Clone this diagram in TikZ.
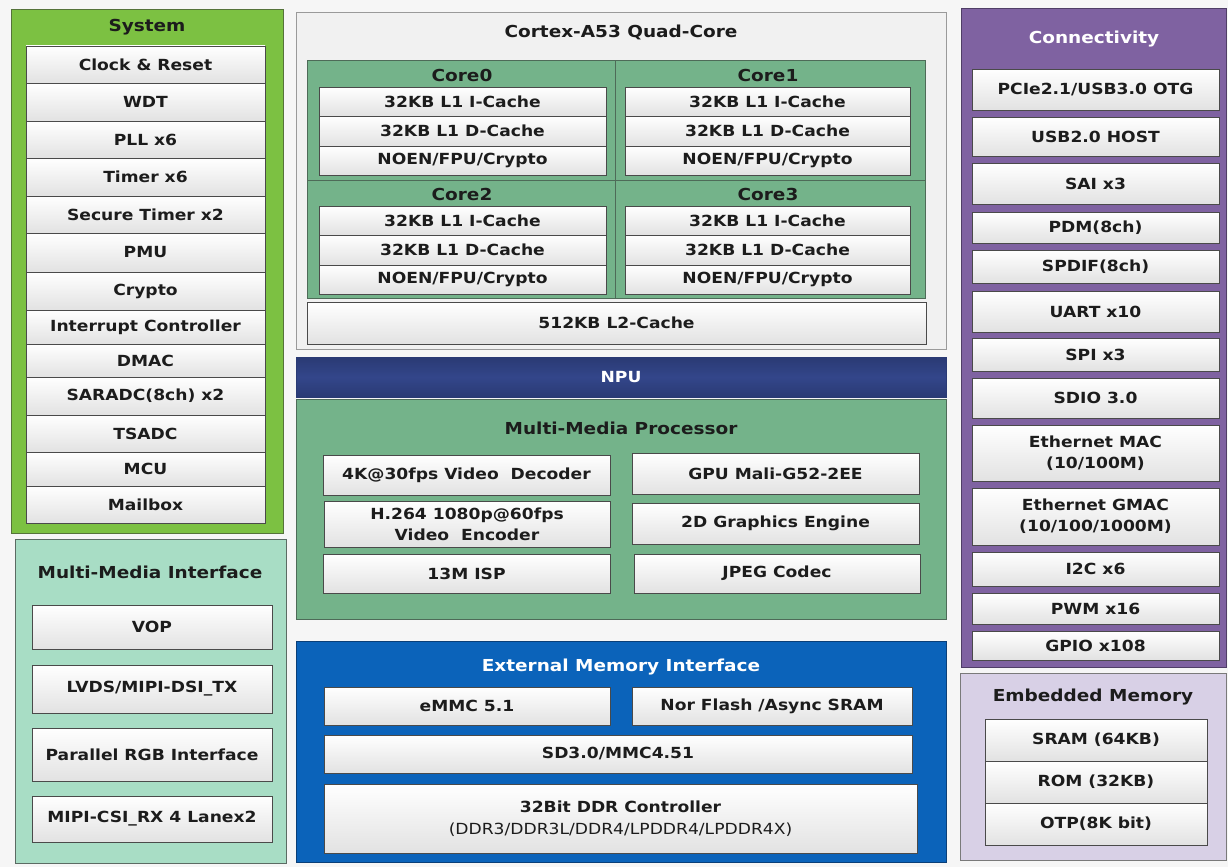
\documentclass[tikz,border=0pt]{standalone}
\usepackage{fontspec}
\setmainfont{DejaVu Sans}[FakeStretch=1.12]
\definecolor{pagebg}{HTML}{F6F6F6}
\definecolor{txt}{HTML}{1C1C1C}
\definecolor{cellline}{HTML}{4A4A4A}
\definecolor{cellbot}{HTML}{E2E2E2}
\definecolor{sysgreen}{HTML}{7CC142}
\definecolor{sysline}{HTML}{55733A}
\definecolor{mmigreen}{HTML}{A8DDC5}
\definecolor{mmiline}{HTML}{5B6B63}
\definecolor{cortexbg}{HTML}{F1F1F1}
\definecolor{cortexline}{HTML}{9A9A9A}
\definecolor{coregreen}{HTML}{74B38A}
\definecolor{coreline}{HTML}{4E6B58}
\definecolor{npublue}{HTML}{33468A}
\definecolor{npudark}{HTML}{2A3A74}
\definecolor{mmpgreen}{HTML}{74B38A}
\definecolor{emiblue}{HTML}{0B63BA}
\definecolor{emiline}{HTML}{0A3F78}
\definecolor{conpurple}{HTML}{7F62A1}
\definecolor{conline}{HTML}{4F3E66}
\definecolor{embbg}{HTML}{D8D0E6}
\definecolor{embline}{HTML}{7A7A7A}
\newcommand\cellfont{\bfseries\fontsize{15.3}{21}\selectfont}
\newcommand\ttlfont{\bfseries\fontsize{16.5}{19}\selectfont}
\newcommand\cellbox[6]{\node[cell, minimum width={#4-#2}, minimum height={#5-#3}] (#1) at (#2,#3) {#6};}
\newcommand\grp[6][]{\node[group, #1, minimum width={#5-#3}, minimum height={#6-#4}] (#2) at (#3,#4) {};}
\begin{document}
\begin{tikzpicture}[x=1pt,y=-1pt,
  cell/.style={draw=cellline, line width=0.9pt, top color=white, bottom color=cellbot,
    text=txt, font=\cellfont, align=center, inner sep=0pt, outer sep=0pt, anchor=north west},
  group/.style={line width=1pt, anchor=north west, inner sep=0pt, outer sep=0pt},
  ttl/.style={font=\ttlfont, text=txt},
  wttl/.style={font=\ttlfont, text=white}]
\useasboundingbox[fill=pagebg] (0,0) rectangle (1228,867);

% ---------------- System
\grp[fill=sysgreen, draw=sysline]{sys}{11}{10}{283}{533}
\node[ttl] (systitle) at (147,27) {System};
\cellbox{clk}{26}{46}{265}{83}{Clock \& Reset}
\cellbox{wdt}{26}{83}{265}{121}{WDT}
\cellbox{pll}{26}{121}{265}{158}{PLL x6}
\cellbox{tmr}{26}{158}{265}{196}{Timer x6}
\cellbox{stmr}{26}{196}{265}{233}{Secure Timer x2}
\cellbox{pmu}{26}{233}{265}{272}{PMU}
\cellbox{cry}{26}{272}{265}{310}{Crypto}
\cellbox{intc}{26}{310}{265}{344}{Interrupt Controller}
\cellbox{dmac}{26}{344}{265}{377}{DMAC}
\cellbox{sar}{26}{377}{265}{415}{SARADC(8ch) x2}
\cellbox{tsadc}{26}{415}{265}{452}{TSADC}
\cellbox{mcu}{26}{452}{265}{486}{MCU}
\cellbox{mbox}{26}{486}{265}{523}{Mailbox}

% ---------------- Multi-Media Interface
\grp[fill=mmigreen, draw=mmiline]{mmi}{15}{539}{286}{863}
\node[ttl] (mmititle) at (150,572) {Multi-Media Interface};
\cellbox{vop}{32}{605}{272}{649}{VOP}
\cellbox{lvds}{32}{665}{272}{713}{LVDS/MIPI-DSI\_TX}
\cellbox{prgb}{32}{728}{272}{781}{Parallel RGB Interface}
\cellbox{csi}{32}{796}{272}{842}{MIPI-CSI\_RX 4 Lanex2}

% ---------------- Cortex
\grp[fill=cortexbg, draw=cortexline]{cortex}{296}{13}{946}{349}
\node[ttl] (cortextitle) at (621,32) {Cortex-A53 Quad-Core};
\grp[fill=coregreen, draw=coreline]{core0}{307}{61}{615}{180}
\grp[fill=coregreen, draw=coreline]{core1}{615}{61}{925}{180}
\grp[fill=coregreen, draw=coreline]{core2}{307}{180}{615}{298}
\grp[fill=coregreen, draw=coreline]{core3}{615}{180}{925}{298}
\node[ttl] (c0t) at (462,75) {Core0};
\node[ttl] (c1t) at (768,75) {Core1};
\node[ttl] (c2t) at (462,194) {Core2};
\node[ttl] (c3t) at (768,194) {Core3};
\cellbox{c0i}{319}{87}{606}{116}{32KB L1 I-Cache}
\cellbox{c0d}{319}{116}{606}{146}{32KB L1 D-Cache}
\cellbox{c0n}{319}{146}{606}{175}{NOEN/FPU/Crypto}
\cellbox{c1i}{625}{87}{910}{116}{32KB L1 I-Cache}
\cellbox{c1d}{625}{116}{910}{146}{32KB L1 D-Cache}
\cellbox{c1n}{625}{146}{910}{175}{NOEN/FPU/Crypto}
\cellbox{c2i}{319}{206}{606}{235}{32KB L1 I-Cache}
\cellbox{c2d}{319}{235}{606}{265}{32KB L1 D-Cache}
\cellbox{c2n}{319}{265}{606}{294}{NOEN/FPU/Crypto}
\cellbox{c3i}{625}{206}{910}{235}{32KB L1 I-Cache}
\cellbox{c3d}{625}{235}{910}{265}{32KB L1 D-Cache}
\cellbox{c3n}{625}{265}{910}{294}{NOEN/FPU/Crypto}
\cellbox{l2}{307}{302}{926}{344}{512KB L2-Cache}

% ---------------- NPU
\node[group, draw=npudark, top color=npudark, bottom color=npudark, middle color=npublue,
  minimum width=650, minimum height=40, text=white, font=\cellfont] (npu) at (296,357) {NPU};

% ---------------- Multi-Media Processor
\grp[fill=mmpgreen, draw=coreline]{mmp}{296}{399}{946}{619}
\node[ttl] (mmptitle) at (621,428) {Multi-Media Processor};
\cellbox{vdec}{323}{455}{610}{495}{4K@30fps Video\ \ Decoder}
\cellbox{gpu}{632}{453}{919}{494}{GPU Mali-G52-2EE}
\cellbox{venc}{324}{501}{610}{547}{H.264 1080p@60fps\\Video\ \ Encoder}
\cellbox{g2d}{632}{503}{919}{544}{2D Graphics Engine}
\cellbox{isp}{323}{554}{610}{593}{13M ISP}
\cellbox{jpeg}{634}{554}{920}{593}{JPEG Codec}

% ---------------- External Memory Interface
\grp[fill=emiblue, draw=emiline]{emi}{296}{641}{946}{862}
\node[wttl] (emititle) at (621,667) {External Memory Interface};
\cellbox{emmc}{324}{687}{610}{725}{eMMC 5.1}
\cellbox{nor}{632}{687}{912}{725}{Nor Flash /Async SRAM}
\cellbox{sd}{324}{735}{912}{773}{SD3.0/MMC4.51}
\cellbox{ddr}{324}{784}{917}{853}{32Bit DDR Controller\\[1pt]{\mdseries (DDR3/DDR3L/DDR4/LPDDR4/LPDDR4X)}}

% ---------------- Connectivity
\grp[fill=conpurple, draw=conline]{conn}{961}{9}{1226}{667}
\node[wttl] (conntitle) at (1094,39) {Connectivity};
\cellbox{pcie}{972}{69}{1219}{110}{PCIe2.1/USB3.0 OTG}
\cellbox{usb}{972}{117}{1219}{156}{USB2.0 HOST}
\cellbox{sai}{972}{163}{1219}{204}{SAI x3}
\cellbox{pdm}{972}{212}{1219}{243}{PDM(8ch)}
\cellbox{spdif}{972}{250}{1219}{283}{SPDIF(8ch)}
\cellbox{uart}{972}{291}{1219}{332}{UART x10}
\cellbox{spi}{972}{338}{1219}{371}{SPI x3}
\cellbox{sdio}{972}{378}{1219}{418}{SDIO 3.0}
\cellbox{emac}{972}{425}{1219}{481}{Ethernet MAC\\(10/100M)}
\cellbox{gmac}{972}{488}{1219}{545}{Ethernet GMAC\\(10/100/1000M)}
\cellbox{iic}{972}{552}{1219}{586}{I2C x6}
\cellbox{pwm}{972}{593}{1219}{624}{PWM x16}
\cellbox{gpio}{972}{631}{1219}{660}{GPIO x108}

% ---------------- Embedded Memory
\grp[fill=embbg, draw=embline]{emb}{960}{673}{1226}{860}
\node[ttl] (embtitle) at (1093,697) {Embedded Memory};
\cellbox{sram}{985}{719}{1207}{761}{SRAM (64KB)}
\cellbox{rom}{985}{761}{1207}{803}{ROM (32KB)}
\cellbox{otp}{985}{803}{1207}{845}{OTP(8K bit)}
\end{tikzpicture}
\end{document}
